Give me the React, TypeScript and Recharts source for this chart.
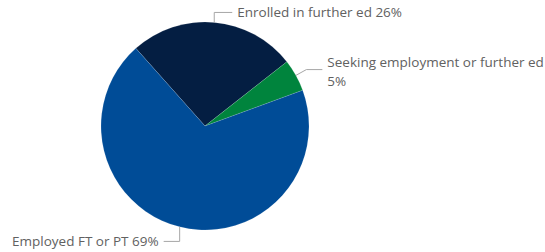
import { Cell, Pie, PieChart } from "recharts";

const categories = [
  "Enrolled in further ed",
  "Seeking employment or further ed",
  "Employed FT or PT"
];
const shares = [26, 5, 69];
const colors = ["#041E42", "#00843D", "#004C97"];

const data = categories.map((name, i) => ({ name, value: shares[i] }));

const RAD = Math.PI / 180;
const textColor = "#616161";
const lineColor = "#a6a6a6";

// per slice: radial stub length, horizontal run, side
const connectors = [
  { ext: 10, run: 18, side: 1, vertical: true },
  { ext: 12, run: 16, side: 1, vertical: false },
  { ext: 15, run: 16, side: -1, vertical: true }
];

function SliceLabel(props: any) {
  const { cx, cy, midAngle, outerRadius, index, name, value } = props;
  const c = connectors[index];
  const sx = cx + outerRadius * Math.cos(-midAngle * RAD);
  const sy = cy + outerRadius * Math.sin(-midAngle * RAD);
  let ex = cx + (outerRadius + c.ext) * Math.cos(-midAngle * RAD);
  const ey = cy + (outerRadius + c.ext) * Math.sin(-midAngle * RAD);
  if (c.vertical) ex = sx;
  const hx = ex + c.side * c.run;
  const tx = hx + c.side * 5;
  const font = { fontFamily: "'Open Sans', sans-serif", fontSize: 13.5, fill: textColor };
  if (index === 1) {
    return (
      <g>
        <polyline points={`${sx},${sy} ${ex},${ey} ${hx},${ey}`} fill="none" stroke={lineColor} />
        <text x={tx} y={ey - 8} dominantBaseline="central" {...font}>
          {name}
        </text>
        <text x={tx} y={ey + 11} dominantBaseline="central" {...font}>
          {value}%
        </text>
      </g>
    );
  }
  return (
    <g>
      <polyline points={`${sx},${sy} ${ex},${ey} ${hx},${ey}`} fill="none" stroke={lineColor} />
      <text
        x={tx}
        y={ey}
        dominantBaseline="central"
        textAnchor={c.side > 0 ? "start" : "end"}
        {...font}
      >
        {`${name} ${value}%`}
      </text>
    </g>
  );
}

export default function App() {
  return (
    <div style={{ position: "fixed", left: 0, top: 0, width: 545, height: 252, background: "#fff" }}>
      <PieChart width={545} height={252} margin={{ top: 0, right: 0, bottom: 0, left: 0 }}>
        <Pie
          data={data}
          dataKey="value"
          nameKey="name"
          cx={205}
          cy={126}
          outerRadius={104}
          startAngle={131.7}
          endAngle={-228.3}
          stroke="#ffffff"
          strokeWidth={0.25}
          strokeOpacity={0.5}
          labelLine={false}
          label={SliceLabel}
          isAnimationActive={false}
        >
          {data.map((d, i) => (
            <Cell key={d.name} fill={colors[i]} />
          ))}
        </Pie>
      </PieChart>
    </div>
  );
}
